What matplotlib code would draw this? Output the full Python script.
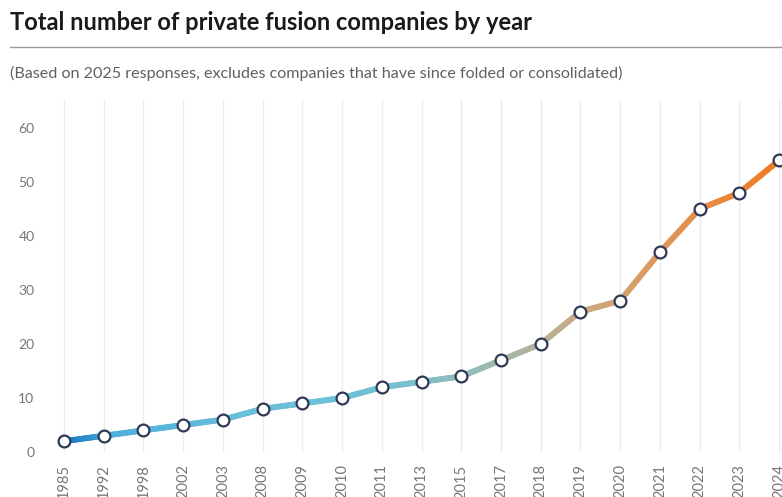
import numpy as np
import matplotlib
matplotlib.use("Agg")
import matplotlib.pyplot as plt
from matplotlib.collections import LineCollection
from matplotlib.colors import LinearSegmentedColormap

# Cumulative count of private fusion companies by founding year
years = ["1985", "1992", "1998", "2002", "2003", "2008", "2009", "2010", "2011",
         "2013", "2015", "2017", "2018", "2019", "2020", "2021", "2022", "2023", "2024"]
companies = [2, 3, 4, 5, 6, 8, 9, 10, 12, 13, 14, 17, 20, 26, 28, 37, 45, 48, 54]
y_ticks = [0, 10, 20, 30, 40, 50, 60]

title = "Total number of private fusion companies by year"
subtitle = "(Based on 2025 responses, excludes companies that have since folded or consolidated)"

W, H = 782, 497
fig = plt.figure(figsize=(W / 100, H / 100), dpi=100)
fig.patch.set_facecolor("white")

# axes placement in pixels
ax_left, ax_right, ax_bottom, ax_top = 40, 782, 45, 397
ax = fig.add_axes([ax_left / W, ax_bottom / H, (ax_right - ax_left) / W, (ax_top - ax_bottom) / H])

x = np.arange(len(years))
y = np.array(companies, dtype=float)

# blue-to-orange gradient along the line
cmap = LinearSegmentedColormap.from_list(
    "fusion",
    [(0.0, "#1577bd"), (0.07, "#4fb0dc"), (0.25, "#69bfdc"), (0.45, "#70c0d4"),
     (0.6, "#9dbab0"), (0.72, "#c9aa84"), (0.82, "#dc9a62"), (1.0, "#f27a22")])
n_sub = 20
pts_x, pts_y = [], []
for i in range(len(x) - 1):
    t = np.linspace(0, 1, n_sub, endpoint=False)
    pts_x.extend(x[i] + t * (x[i + 1] - x[i]))
    pts_y.extend(y[i] + t * (y[i + 1] - y[i]))
pts_x.append(x[-1]); pts_y.append(y[-1])
pts = np.column_stack([pts_x, pts_y]).reshape(-1, 1, 2)
segs = np.concatenate([pts[:-1], pts[1:]], axis=1)
lc = LineCollection(segs, cmap=cmap, linewidths=4.2, capstyle="round", joinstyle="round", zorder=3)
lc.set_array(np.array(pts_x[:-1]) / x[-1])
lc.set_clim(0, 1)
ax.add_collection(lc)

ax.plot(x, y, linestyle="none", marker="o", markersize=8.5, markerfacecolor="white",
        markeredgecolor="#2e3a55", markeredgewidth=1.6, zorder=4, clip_on=False)

px_per_unit = 39.72
ax.set_xlim(-(64 - ax_left) / px_per_unit, 18 + (ax_right - 779) / px_per_unit)
ax.set_ylim(0, 65.2)

ax.set_xticks(x)
ax.set_xticklabels(years, rotation=90, fontsize=10.5, color="#777777", family="Lato")
ax.set_yticks(y_ticks)
ax.set_yticklabels([str(v) for v in y_ticks], fontsize=10, color="#777777", family="Lato")
ax.tick_params(axis="both", length=0)
ax.tick_params(axis="x", pad=9)
ax.tick_params(axis="y", pad=4)
for lbl in ax.get_yticklabels():
    lbl.set_horizontalalignment("right")

ax.grid(axis="x", color="#ececec", linewidth=1)
ax.grid(axis="y", visible=False)
for s in ax.spines.values():
    s.set_visible(False)
ax.set_axisbelow(True)

fig.text(10 / W, 1 - 22 / H, title, fontsize=17, fontweight="bold", color="#1a1a1a",
         family="Lato", va="center", ha="left")
fig.add_artist(plt.Line2D([10 / W, 1.0], [1 - 47 / H, 1 - 47 / H], color="#9a9a9a", linewidth=1))
fig.text(10 / W, 1 - 73 / H, subtitle, fontsize=11.6, fontweight="normal", color="#606060",
         family="Lato", va="center", ha="left")

fig.savefig("out.png", dpi=100, facecolor="white")
